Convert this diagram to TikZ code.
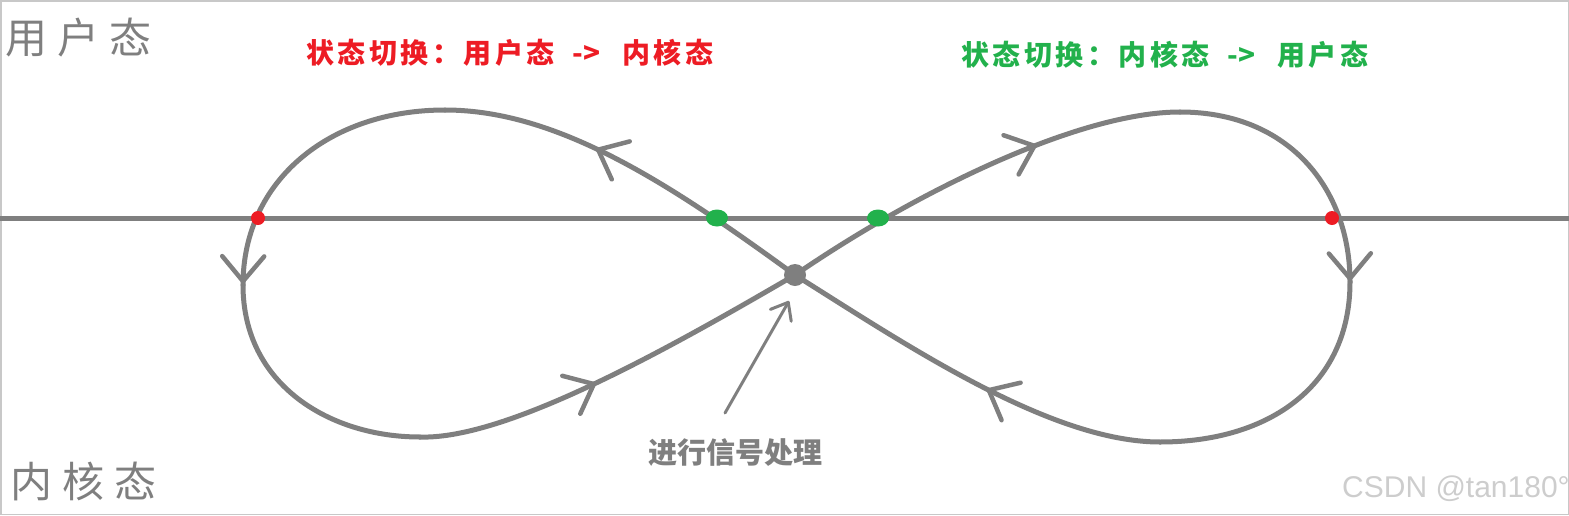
\documentclass[tikz,border=0pt]{standalone}
\usepackage{fontspec}
\newfontfamily\cjk{Noto Sans CJK SC}
\newfontfamily\wmfont{Liberation Sans}
\usetikzlibrary{decorations.markings,arrows.meta}
\definecolor{lgray}{RGB}{127,127,127}
\definecolor{pred}{RGB}{237,28,36}
\definecolor{pgreen}{RGB}{34,177,76}
\definecolor{wmgray}{RGB}{205,205,205}
\definecolor{framegray}{RGB}{200,200,200}
\newcommand\lsp{\hspace{3.5pt}}
\tikzset{
  curve/.style={lgray, line width=5pt, line cap=round},
  chev at/.style={postaction={decorate}, decoration={markings,
      mark=at position #1 with {\arrow{Straight Barb[length=25pt,width=42pt,line width=4.5pt,round]}}}},
  bigstate/.style={text=lgray, inner sep=0pt, anchor=west, font=\cjk\fontsize{42}{46}\selectfont},
  switchlbl/.style={inner sep=0pt, anchor=west, font=\cjk\bfseries\fontsize{28}{32}\selectfont},
  reddot/.style={fill=pred},
  greendot/.style={fill=pgreen},
}
\begin{document}
\begin{tikzpicture}[x=1pt,y=-1pt]
\useasboundingbox (0,0) rectangle (1569,515);
\draw[framegray, line width=1.5pt] (0.75,0.75) rectangle (1568.25,514.25);

% key points
\coordinate (C)  at (795,275);
\coordinate (LT) at (445,110);
\coordinate (LL) at (243,285);
\coordinate (LB) at (420,437);
\coordinate (RT) at (1180,112);
\coordinate (RR) at (1350,282);
\coordinate (RB) at (1160,442);
\coordinate (HL) at (0,218);
\coordinate (HR) at (1569,218);

% boundary line
\draw[lgray, line width=5pt] (HL) -- (HR);

% left loop
\draw[curve, chev at=0.6] (C) .. controls (674,187) and (560,110) .. (LT);
\draw[curve, chev at=0.995] (LT) .. controls (330,110) and (243,180) .. (LL);
\draw[curve] (LL) .. controls (243,385) and (330,437) .. (LB);
\draw[curve, chev at=0.45] (LB) .. controls (510,440) and (683,340) .. (C);

% right loop
\draw[curve, chev at=0.65] (C) .. controls (919,190) and (1080,112) .. (RT);
\draw[curve, chev at=0.995] (RT) .. controls (1290,112) and (1350,190) .. (RR);
\draw[curve] (RR) .. controls (1350,385) and (1270,442) .. (RB);
\draw[curve, chev at=0.45] (RB) .. controls (1050,442) and (905,344) .. (C);

% switch points
\fill[reddot] (258,218) circle (7pt);
\fill[reddot] (1332,218) circle (7pt);
\fill[greendot] (717,218) ellipse [x radius=11pt, y radius=8.5pt];
\fill[greendot] (878,218) ellipse [x radius=11pt, y radius=8.5pt];
\node[circle, fill=lgray, minimum size=22pt, inner sep=0pt] (cdot) at (C) {};

% labels
\node[bigstate] (user) at (5,38) {用\hspace{10pt}户\hspace{10pt}态};
\node[bigstate] (kern) at (10,481) {内\hspace{10pt}核\hspace{10pt}态};
\node[switchlbl, text=pred] (u2k) at (306,53) {状\lsp 态\lsp 切\lsp 换\lsp ：\lsp 用\lsp 户\lsp 态\hspace{18pt}->\hspace{22pt}内\lsp 核\lsp 态};
\node[switchlbl, text=pgreen] (k2u) at (961,55) {状\lsp 态\lsp 切\lsp 换\lsp ：\lsp 内\lsp 核\lsp 态\hspace{18pt}->\hspace{22pt}用\lsp 户\lsp 态};
\node[inner sep=0pt, text=lgray, font=\cjk\bfseries\fontsize{29}{32}\selectfont] (sig) at (735,453) {进行信号处理};
\coordinate (sigtail) at (725,413);
\coordinate (sighead) at (789,301);
\draw[lgray, line width=3pt, line cap=round, -{Straight Barb[length=15pt,width=24pt,line width=3pt,round]}] (sigtail) -- (sighead);

% watermark
\node[inner sep=0pt, anchor=west, text=wmgray, font=\wmfont\fontsize{30}{32}\selectfont] (wm) at (1342,489) {CSDN @tan180°};
\end{tikzpicture}
\end{document}
